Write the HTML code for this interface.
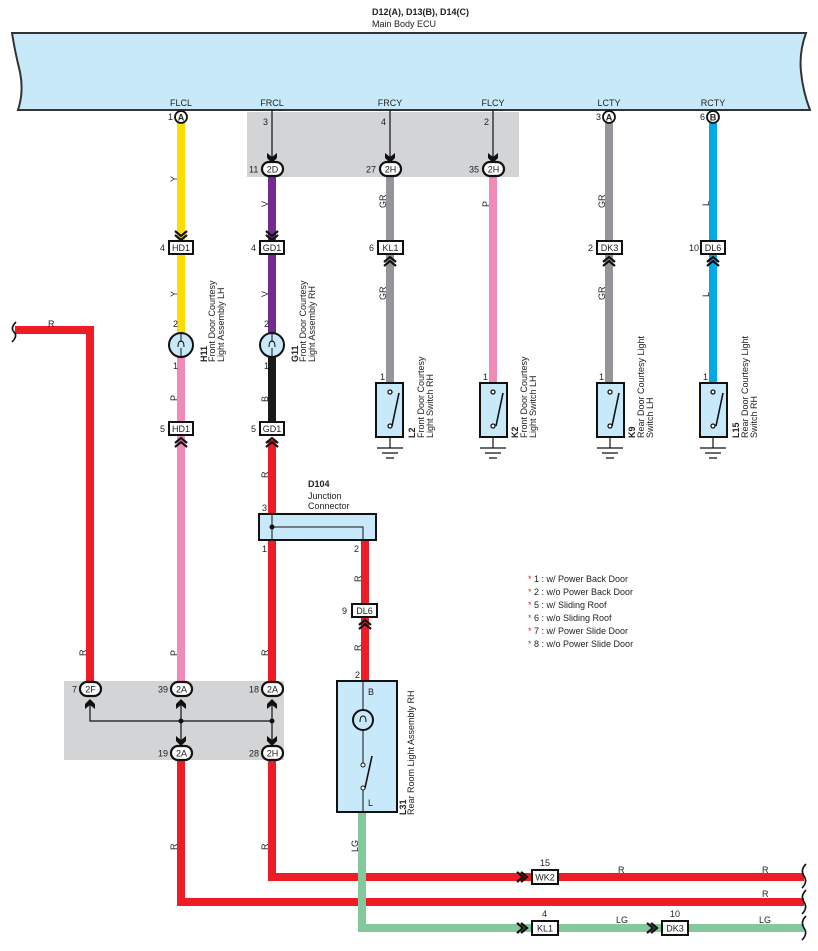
<!DOCTYPE html>
<html><head><meta charset="utf-8"><style>
html,body{margin:0;padding:0;background:#fff;width:818px;height:951px;overflow:hidden}
svg{display:block}
text{font-family:"Liberation Sans",sans-serif;font-size:9px;fill:#222}
.b{font-weight:bold}
</style></head><body>
<svg width="818" height="951" viewBox="0 0 818 951" xmlns="http://www.w3.org/2000/svg">
<defs>
<g id="chevD"><path d="M-6,-8 L0,-3 L6,-8 M-6,-4 L0,1 L6,-4" fill="none" stroke="#111" stroke-width="2.2"/></g>
<g id="chevU"><path d="M-6,8 L0,3 L6,8 M-6,4 L0,-1 L6,4" fill="none" stroke="#111" stroke-width="2.2"/></g>
<g id="arrD"><path d="M-5,-8 L0,-4 L5,-8 L5,-3 L0,2 L-5,-3 Z" fill="#111"/></g>
<g id="arrU"><path d="M-5,8 L0,4 L5,8 L5,3 L0,-2 L-5,3 Z" fill="#111"/></g>
<g id="gnd"><path d="M0,0 V11 M-13,11 H13 M-8,16 H8 M-4,21 H4" stroke="#111" stroke-width="1.2" fill="none"/></g>
</defs>

<!-- ECU -->
<text x="372" y="15" class="b">D12(A), D13(B), D14(C)</text>
<text x="372" y="27">Main Body ECU</text>
<path d="M12,33 H806 Q799,52 801,72 Q803,92 810,110 H18 Q24,92 20,72 Q15,52 12,33 Z" fill="#c8e9fa" stroke="#333" stroke-width="2"/>
<text x="181" y="106" text-anchor="middle">FLCL</text>
<text x="272" y="106" text-anchor="middle">FRCL</text>
<text x="390" y="106" text-anchor="middle">FRCY</text>
<text x="493" y="106" text-anchor="middle">FLCY</text>
<text x="609" y="106" text-anchor="middle">LCTY</text>
<text x="713" y="106" text-anchor="middle">RCTY</text>

<!-- gray boxes -->
<rect x="247" y="112" width="272" height="65" fill="#d3d4d6"/>
<rect x="64" y="681" width="220" height="79" fill="#d3d4d6"/>

<!-- wires -->
<g stroke-width="8" fill="none">
<path d="M181,123 V333" stroke="#ffdd00"/>
<path d="M181,357 V685" stroke="#f28ab9"/>
<path d="M272,175 V333" stroke="#722c91"/>
<path d="M272,357 V425" stroke="#1a1a1a"/>
<path d="M272,440 V515 M272,540 V685" stroke="#ee1c25"/>
<path d="M390,175 V383" stroke="#939598"/>
<path d="M493,175 V383" stroke="#f28ab9"/>
<path d="M609,123 V383" stroke="#939598"/>
<path d="M713,123 V383" stroke="#00a9e8"/>
<path d="M15,330 H90 V685" stroke="#ee1c25"/>
<path d="M365,540 V681" stroke="#ee1c25"/>
<path d="M181,760 V902 H804" stroke="#ee1c25"/>
<path d="M272,760 V877 H804" stroke="#ee1c25"/>
<path d="M362,812 V928 H804" stroke="#84c99d"/>
</g>

<!-- thin arrows in top gray -->
<g stroke="#111" stroke-width="1.2">
<path d="M272,110 V162 M390,110 V162 M493,110 V162"/>
</g>
<use href="#arrD" x="272" y="161"/><use href="#arrD" x="390" y="161"/><use href="#arrD" x="493" y="161"/>
<text x="263" y="125">3</text><text x="381" y="125">4</text><text x="484" y="125">2</text>

<!-- pin circles -->
<g fill="#fff" stroke="#111" stroke-width="1.8">
<circle cx="181" cy="117" r="6"/><circle cx="609" cy="117" r="6"/><circle cx="713" cy="117" r="6"/>
</g>
<text x="181" y="120.5" text-anchor="middle" class="b">A</text>
<text x="609" y="120.5" text-anchor="middle" class="b">A</text>
<text x="713" y="120.5" text-anchor="middle" class="b">B</text>
<text x="168" y="120">1</text><text x="596" y="120">3</text><text x="700" y="120">6</text>

<!-- pill connectors -->
<g fill="#fff" stroke="#111" stroke-width="2.2">
<rect x="262" y="162" width="21" height="14" rx="7"/>
<rect x="380" y="162" width="21" height="14" rx="7"/>
<rect x="483" y="162" width="21" height="14" rx="7"/>
<rect x="80" y="682" width="21" height="14" rx="7"/>
<rect x="171" y="682" width="21" height="14" rx="7"/>
<rect x="262" y="682" width="21" height="14" rx="7"/>
<rect x="171" y="746" width="21" height="14" rx="7"/>
<rect x="262" y="746" width="21" height="14" rx="7"/>
</g>
<text x="272.5" y="172.5" text-anchor="middle">2D</text><text x="249" y="172.5">11</text>
<text x="390.5" y="172.5" text-anchor="middle">2H</text><text x="366" y="172.5">27</text>
<text x="493.5" y="172.5" text-anchor="middle">2H</text><text x="469" y="172.5">35</text>
<text x="90.5" y="692.5" text-anchor="middle">2F</text><text x="72" y="692.5">7</text>
<text x="181.5" y="692.5" text-anchor="middle">2A</text><text x="158" y="692.5">39</text>
<text x="272.5" y="692.5" text-anchor="middle">2A</text><text x="249" y="692.5">18</text>
<text x="181.5" y="756.5" text-anchor="middle">2A</text><text x="158" y="756.5">19</text>
<text x="272.5" y="756.5" text-anchor="middle">2H</text><text x="249" y="756.5">28</text>

<!-- bottom gray internal -->
<path d="M90,700 V721 H272 M181,700 V742 M272,700 V742" stroke="#111" stroke-width="1.2" fill="none"/>
<circle cx="181" cy="721" r="2.5" fill="#111"/><circle cx="272" cy="721" r="2.5" fill="#111"/>
<use href="#arrU" x="90" y="701"/><use href="#arrU" x="181" y="701"/><use href="#arrU" x="272" y="701"/>
<use href="#arrD" x="181" y="744"/><use href="#arrD" x="272" y="744"/>

<!-- box connectors -->
<g fill="#fff" stroke="#111" stroke-width="2">
<rect x="169" y="241" width="24" height="13"/>
<rect x="260" y="241" width="24" height="13"/>
<rect x="378" y="241" width="25" height="13"/>
<rect x="597" y="241" width="25" height="13"/>
<rect x="701" y="241" width="24" height="13"/>
<rect x="169" y="422" width="24" height="13"/>
<rect x="260" y="422" width="24" height="13"/>
<rect x="352" y="604" width="25" height="13"/>
<rect x="532" y="870" width="26" height="14"/>
<rect x="532" y="921" width="26" height="14"/>
<rect x="662" y="921" width="26" height="14"/>
</g>
<text x="181" y="251" text-anchor="middle">HD1</text><text x="160" y="251">4</text>
<text x="272" y="251" text-anchor="middle">GD1</text><text x="251" y="251">4</text>
<text x="390.5" y="251" text-anchor="middle">KL1</text><text x="369" y="251">6</text>
<text x="609.5" y="251" text-anchor="middle">DK3</text><text x="588" y="251">2</text>
<text x="713" y="251" text-anchor="middle">DL6</text><text x="689" y="251">10</text>
<text x="181" y="432" text-anchor="middle">HD1</text><text x="160" y="432">5</text>
<text x="272" y="432" text-anchor="middle">GD1</text><text x="251" y="432">5</text>
<text x="364.5" y="614" text-anchor="middle">DL6</text><text x="342" y="614">9</text>
<text x="545" y="880.5" text-anchor="middle">WK2</text><text x="540" y="866">15</text>
<text x="545" y="931.5" text-anchor="middle">KL1</text><text x="542" y="917">4</text>
<text x="675" y="931.5" text-anchor="middle">DK3</text><text x="670" y="917">10</text>

<use href="#chevD" x="181" y="239"/><use href="#chevD" x="272" y="239"/>
<use href="#chevU" x="390" y="258"/><use href="#chevU" x="609" y="258"/><use href="#chevU" x="713" y="258"/>
<use href="#chevU" x="181" y="439"/><use href="#chevU" x="272" y="439"/><use href="#chevU" x="365" y="621"/>
<g fill="none" stroke="#111" stroke-width="2.2">
<path d="M517,872 L523,877 L517,882 M521,872 L527,877 L521,882"/>
<path d="M517,923 L523,928 L517,933 M521,923 L527,928 L521,933"/>
<path d="M647,923 L653,928 L647,933 M651,923 L657,928 L651,933"/>
</g>

<!-- bulbs -->
<g fill="#c8e9fa" stroke="#111" stroke-width="2">
<circle cx="181" cy="345" r="12"/><circle cx="272" cy="345" r="12"/>
</g>
<path d="M181,333 V342 M181,348 V357 M272,333 V342 M272,348 V357" stroke="#111" stroke-width="1"/>
<path d="M178,347 Q178,341 181,341 Q184,341 184,347 M269,347 Q269,341 272,341 Q275,341 275,347" stroke="#111" stroke-width="1" fill="none"/>
<text x="173" y="327">2</text><text x="173" y="369">1</text>
<text x="264" y="327">2</text><text x="264" y="369">1</text>

<!-- switches -->
<g fill="#c8e9fa" stroke="#111" stroke-width="2">
<rect x="376" y="383" width="27" height="54"/>
<rect x="480" y="383" width="27" height="54"/>
<rect x="597" y="383" width="27" height="54"/>
<rect x="700" y="383" width="27" height="54"/>
</g>
<g stroke="#111" stroke-width="1.3" fill="#fff">
<path d="M392,426 L399,393 M496,426 L503,393 M612,426 L619,393 M716,426 L723,393" fill="none" stroke-width="1.6"/>
<circle cx="390" cy="392" r="2"/><circle cx="390" cy="426" r="2"/>
<circle cx="493" cy="392" r="2"/><circle cx="493" cy="426" r="2"/>
<circle cx="610" cy="392" r="2"/><circle cx="610" cy="426" r="2"/>
<circle cx="713" cy="392" r="2"/><circle cx="713" cy="426" r="2"/>
</g>
<use href="#gnd" x="390" y="437"/><use href="#gnd" x="493" y="437"/><use href="#gnd" x="610" y="437"/><use href="#gnd" x="713" y="437"/>
<text x="380" y="380">1</text><text x="483" y="380">1</text><text x="599" y="380">1</text><text x="703" y="380">1</text>

<!-- D104 -->
<text x="308" y="487" class="b">D104</text>
<text x="308" y="499">Junction</text>
<text x="308" y="509">Connector</text>
<rect x="259" y="514" width="117" height="26" fill="#c8e9fa" stroke="#111" stroke-width="2"/>
<path d="M272,514 V540 M272,527 H363 V540" stroke="#111" stroke-width="1" fill="none"/>
<circle cx="272" cy="527" r="2.5" fill="#111"/>
<text x="262" y="511">3</text><text x="262" y="552">1</text><text x="354" y="552">2</text>

<!-- L31 -->
<rect x="337" y="681" width="60" height="131" fill="#c8e9fa" stroke="#111" stroke-width="2"/>
<path d="M363,681 V710 M363,730 V765 M363,790 V812" stroke="#111" stroke-width="1" fill="none"/>
<circle cx="363" cy="720" r="10" fill="none" stroke="#111" stroke-width="2"/>
<path d="M360,722 Q360,716 363,716 Q366,716 366,722" stroke="#111" stroke-width="1" fill="none"/>
<path d="M365,788 L372,756" stroke="#111" stroke-width="1.6"/>
<circle cx="363" cy="765" r="2" fill="#fff" stroke="#111"/><circle cx="363" cy="788" r="2" fill="#fff" stroke="#111"/>
<text x="368" y="695" class="b" style="font-weight:normal">B</text>
<text x="368" y="806">L</text>
<text x="355" y="678">2</text>

<!-- wire color labels (rotated) -->
<g font-size="9">
<text transform="translate(177,182) rotate(-90)">Y</text>
<text transform="translate(177,297) rotate(-90)">Y</text>
<text transform="translate(177,401) rotate(-90)">P</text>
<text transform="translate(177,656) rotate(-90)">P</text>
<text transform="translate(268,207) rotate(-90)">V</text>
<text transform="translate(268,297) rotate(-90)">V</text>
<text transform="translate(268,402) rotate(-90)">B</text>
<text transform="translate(268,478) rotate(-90)">R</text>
<text transform="translate(268,656) rotate(-90)">R</text>
<text transform="translate(386,208) rotate(-90)">GR</text>
<text transform="translate(386,300) rotate(-90)">GR</text>
<text transform="translate(489,207) rotate(-90)">P</text>
<text transform="translate(605,208) rotate(-90)">GR</text>
<text transform="translate(605,300) rotate(-90)">GR</text>
<text transform="translate(709,206) rotate(-90)">L</text>
<text transform="translate(709,297) rotate(-90)">L</text>
<text transform="translate(361,582) rotate(-90)">R</text>
<text transform="translate(361,651) rotate(-90)">R</text>
<text transform="translate(86,656) rotate(-90)">R</text>
<text transform="translate(177,850) rotate(-90)">R</text>
<text transform="translate(268,850) rotate(-90)">R</text>
<text transform="translate(358,852) rotate(-90)">LG</text>
</g>
<text x="48" y="327">R</text>
<text x="618" y="873">R</text><text x="762" y="873">R</text><text x="762" y="897">R</text>
<text x="616" y="923">LG</text><text x="759" y="923">LG</text>

<!-- component labels -->
<g font-size="9">
<text transform="translate(207,362) rotate(-90)" class="b">H11</text>
<text transform="translate(215,362) rotate(-90)">Front Door Courtesy</text>
<text transform="translate(224,362) rotate(-90)">Light Assembly LH</text>
<text transform="translate(298,362) rotate(-90)" class="b">G11</text>
<text transform="translate(306,362) rotate(-90)">Front Door Courtesy</text>
<text transform="translate(315,362) rotate(-90)">Light Assembly RH</text>
<text transform="translate(415,438) rotate(-90)" class="b">L2</text>
<text transform="translate(424,438) rotate(-90)">Front Door Courtesy</text>
<text transform="translate(433,438) rotate(-90)">Light Switch RH</text>
<text transform="translate(518,438) rotate(-90)" class="b">K2</text>
<text transform="translate(527,438) rotate(-90)">Front Door Courtesy</text>
<text transform="translate(536,438) rotate(-90)">Light Switch LH</text>
<text transform="translate(635,438) rotate(-90)" class="b">K9</text>
<text transform="translate(644,438) rotate(-90)">Rear Door Courtesy Light</text>
<text transform="translate(653,438) rotate(-90)">Switch LH</text>
<text transform="translate(739,438) rotate(-90)" class="b">L15</text>
<text transform="translate(748,438) rotate(-90)">Rear Door Courtesy Light</text>
<text transform="translate(757,438) rotate(-90)">Switch RH</text>
<text transform="translate(406,815) rotate(-90)" class="b">L31</text>
<text transform="translate(414,815) rotate(-90)">Rear Room Light Assembly RH</text>
</g>

<!-- notes -->
<g font-size="9">
<text x="528" y="582"><tspan fill="#c0392b">*</tspan> 1 : w/ Power Back Door</text>
<text x="528" y="595"><tspan fill="#c0392b">*</tspan> 2 : w/o Power Back Door</text>
<text x="528" y="608"><tspan fill="#c0392b">*</tspan> 5 : w/ Sliding Roof</text>
<text x="528" y="621"><tspan fill="#c0392b">*</tspan> 6 : w/o Sliding Roof</text>
<text x="528" y="634"><tspan fill="#c0392b">*</tspan> 7 : w/ Power Slide Door</text>
<text x="528" y="647"><tspan fill="#c0392b">*</tspan> 8 : w/o Power Slide Door</text>
</g>

<!-- break braces -->
<g fill="none" stroke="#111" stroke-width="1.6">
<path d="M16,322 Q10,328 14,332 Q18,336 12,342"/>
<path d="M806,864 Q800,870 804,876 Q808,882 802,888"/>
<path d="M806,890 Q800,896 804,902 Q808,908 802,914"/>
<path d="M806,916 Q800,922 804,928 Q808,934 802,940"/>
</g>
</svg>
</body></html>
